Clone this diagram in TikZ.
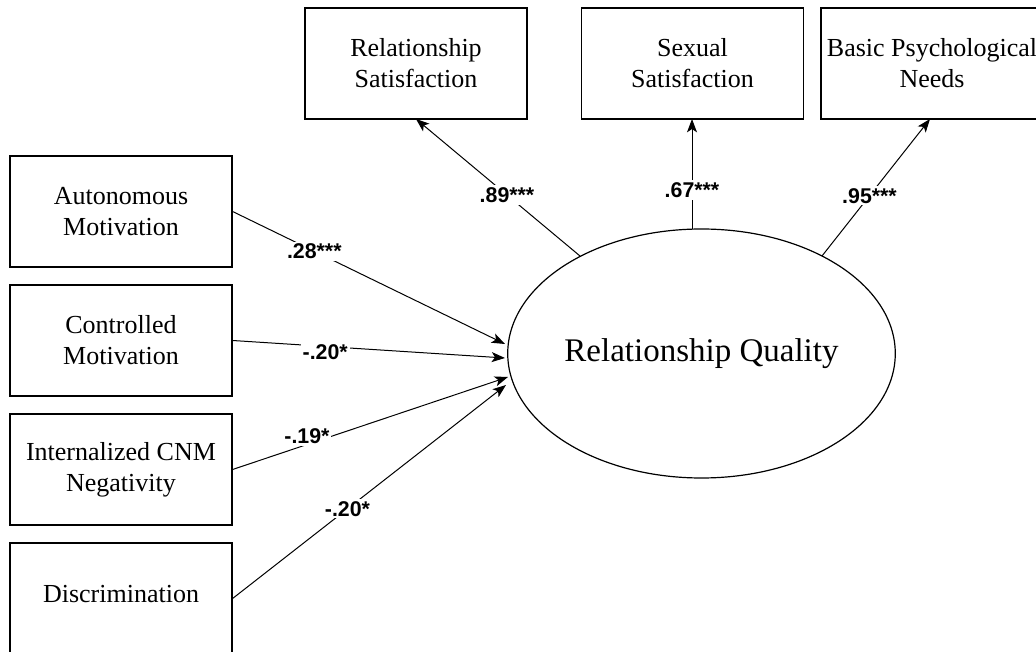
\documentclass[tikz,border=0pt]{standalone}
\usepackage{fontspec}
\setmainfont{Liberation Serif}
\newfontfamily\lblfont{Liberation Sans}
\usetikzlibrary{arrows.meta,shapes.geometric}

\begin{document}
\begin{tikzpicture}[x=0.75pt,y=-0.75pt,
  box/.style={draw, line width=0.9pt, minimum width=166.5pt, minimum height=83.25pt, inner sep=0pt, align=center, font=\fontsize{19.5}{23.4}\selectfont},
  lv/.style={ellipse, draw, line width=0.9pt, minimum width=290.25pt, minimum height=186.75pt, inner sep=0pt, font=\fontsize{24.75}{29}\selectfont},
  lbl/.style={fill=white, inner sep=1.5pt, font=\lblfont\bfseries\fontsize{16}{19}\selectfont},
  conn/.style={line width=0.75pt, -{Stealth[length=10pt,width=7.5pt,inset=2.5pt]}}]

\useasboundingbox (0,0) rectangle (1036,652);
\fill[white] (0,0) rectangle (1036,652);
\clip (0,0) rectangle (1036,652);

% nodes
\node[box] (am)   at (121,211.5) {Autonomous\\Motivation};
\node[box] (cm)   at (121,340.5) {Controlled\\Motivation};
\node[box] (icn)  at (121,469.5) {Internalized CNM\\Negativity};
\node[box] (disc) at (121,598.5) {\raisebox{7.5pt}{Discrimination}};
\node[box] (rs)   at (416,63.5)  {Relationship\\Satisfaction};
\node[box] (ss)   at (692.5,63.5) {Sexual\\Satisfaction};
\node[box] (bpn)  at (932,63.5)  {Basic Psychological\\Needs};
\node[lv]  (rq)   at (701.5,353.5) {Relationship Quality};

% arrow tips at the latent variable and start points on it
\coordinate (t1) at (505,344);
\coordinate (t2) at (505,358);
\coordinate (t3) at (508,377);
\coordinate (t4) at (506,385);
\coordinate (e1) at (580,256);
\coordinate (e2) at (692,229);
\coordinate (e3) at (822,256);
\coordinate (b1) at (416,119);
\coordinate (b2) at (692,119);
\coordinate (b3) at (930,119);

% predictors
\draw[conn] (am.east)   -- node[lbl, pos=0.3] {.28***} (t1);
\draw[conn] (cm.east)   -- node[lbl, pos=0.34, yshift=-4pt] {-.20*} (t2);
\draw[conn] (icn.east)  -- node[lbl, pos=0.27, yshift=6pt] {-.19*} (t3);
\draw[conn] (disc.east) -- node[lbl, pos=0.42] {-.20*} (t4);

% indicators
\draw[conn] (e1) -- node[lbl, pos=0.445] {.89***} (b1);
\draw[conn] (e2) -- node[lbl, pos=0.355] {.67***} (b2);
\draw[conn] (e3) -- node[lbl, pos=0.44] {.95***} (b3);
\end{tikzpicture}
\end{document}
